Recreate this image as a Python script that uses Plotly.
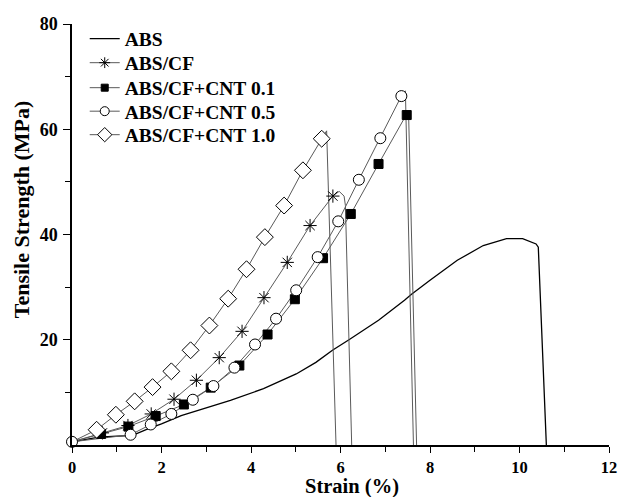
import plotly.graph_objects as go

# ---------------- data ----------------
abs_x = [0.0, 0.3, 0.6, 1.0, 1.34, 1.71, 2.0, 2.44, 3.0, 3.54, 4.28, 5.01, 5.45, 5.82, 6.19,
         6.85, 7.43, 7.58, 8.0, 8.61, 9.19, 9.71, 10.07, 10.37, 10.42, 10.60]
abs_y = [0.6, 1.1, 1.5, 1.7, 1.8, 3.1, 4.0, 5.6, 7.0, 8.5, 10.7, 13.5, 15.7, 18.0, 20.0,
         23.7, 27.5, 28.6, 31.3, 35.1, 37.9, 39.2, 39.2, 38.2, 37.6, 0.0]

cf_x = [0.68, 1.25, 1.77, 2.28, 2.78, 3.29, 3.80, 4.29, 4.81, 5.32, 5.83]
cf_y = [2.3, 3.7, 5.9, 8.7, 12.3, 16.6, 21.6, 28.0, 34.7, 41.7, 47.3]
cf_tail_x = [5.97, 6.08, 6.11, 6.25]
cf_tail_y = [48.2, 47.3, 45.5, 0.0]

c01_x = [0.65, 1.26, 1.87, 2.50, 3.10, 3.74, 4.37, 4.98, 5.61, 6.23, 6.85, 7.48]
c01_y = [2.1, 3.5, 5.5, 7.7, 10.9, 15.1, 21.0, 27.7, 35.5, 43.9, 53.4, 62.7]
c01_tail_x = [7.52, 7.70]
c01_tail_y = [63.5, 0.0]

c05_x = [0.0, 1.31, 1.76, 2.22, 2.70, 3.16, 3.63, 4.09, 4.56, 5.01, 5.49, 5.95, 6.41, 6.89, 7.36]
c05_y = [0.6, 1.95, 3.9, 5.9, 8.6, 11.2, 14.7, 19.1, 24.0, 29.4, 35.7, 42.5, 50.4, 58.3, 66.3]
c05_tail_x = [7.45, 7.63]
c05_tail_y = [67.3, 0.0]

c10_x = [0.55, 0.98, 1.40, 1.80, 2.22, 2.65, 3.07, 3.49, 3.90, 4.31, 4.74, 5.16, 5.58]
c10_y = [2.9, 5.75, 8.3, 11.0, 14.0, 18.0, 22.7, 27.8, 33.4, 39.5, 45.5, 52.2, 58.2]
c10_tail_x = [5.69, 5.90]
c10_tail_y = [59.7, 0.0]

origin_x = [0.0]
origin_y = [0.6]

x_ticks = [0, 2, 4, 6, 8, 10, 12]
y_ticks = [20, 40, 60, 80]

names = ["ABS", "ABS/CF", "ABS/CF+CNT 0.1", "ABS/CF+CNT 0.5", "ABS/CF+CNT 1.0"]

# ---------------- figure ----------------
GRAY = "#5a5a5a"
FONT = "Liberation Serif"
fig = go.Figure()

# ABS line
fig.add_trace(go.Scatter(x=abs_x, y=abs_y, mode="lines",
                         line=dict(color="black", width=1.3), showlegend=False))

series = [
    (cf_x, cf_y, cf_tail_x, cf_tail_y, dict(symbol="asterisk-open", size=11, color="black",
                                            line=dict(color="black", width=1)), True),
    (c01_x, c01_y, c01_tail_x, c01_tail_y, dict(symbol="square", size=9, color="black",
                                                line=dict(color="black", width=1)), True),
    (c05_x, c05_y, c05_tail_x, c05_tail_y, dict(symbol="circle", size=11, color="white",
                                                line=dict(color="black", width=1)), False),
    (c10_x, c10_y, c10_tail_x, c10_tail_y, dict(symbol="diamond", size=13, color="white",
                                                line=dict(color="black", width=1)), True),
]

for mx, my, tx, ty, mk, add_origin in series:
    lx = (origin_x if add_origin else []) + mx + tx
    ly = (origin_y if add_origin else []) + my + ty
    fig.add_trace(go.Scatter(x=lx, y=ly, mode="lines",
                             line=dict(color=GRAY, width=1), showlegend=False))

for mx, my, tx, ty, mk, add_origin in series:
    fig.add_trace(go.Scatter(x=mx, y=my, mode="markers", marker=mk,
                             showlegend=False, cliponaxis=False))

# legend entries: one legend per entry so the row spacing matches the reference
PLOT_TOP, PLOT_BOTTOM = 24, 445
legend_rows_px = [39, 63, 88, 111.5, 135]
legend_ids = ["legend", "legend2", "legend3", "legend4", "legend5"]

fig.add_trace(go.Scatter(x=[None], y=[None], mode="lines", name=names[0],
                         legend=legend_ids[0],
                         line=dict(color="black", width=1.3)))
for (mx, my, tx, ty, mk, _), nm, lid in zip(series, names[1:], legend_ids[1:]):
    mk2 = dict(mk)
    mk2["size"] = mk["size"] - 2
    fig.add_trace(go.Scatter(x=[None], y=[None], mode="lines+markers", name=nm,
                             legend=lid,
                             line=dict(color=GRAY, width=1), marker=mk2))

legend_layout = {}
for lid, row in zip(legend_ids, legend_rows_px):
    legend_layout[lid] = dict(
        x=0.0237, y=(PLOT_BOTTOM - row) / (PLOT_BOTTOM - PLOT_TOP),
        xanchor="left", yanchor="middle",
        bgcolor="rgba(0,0,0,0)", borderwidth=0, itemwidth=30,
        font=dict(family=FONT, size=19.5, color="black", weight="bold"),
    )

axis_common = dict(
    showline=True, linecolor="black", linewidth=1.5, mirror=False,
    tickwidth=1.3, tickcolor="black", ticks="outside",
    showgrid=False, zeroline=False,
)

fig.update_xaxes(range=[0, 12], tickvals=x_ticks, ticktext=[str(v) for v in x_ticks],
                 ticklen=6,
                 minor=dict(ticks="outside", ticklen=5, tickwidth=1.2, tickcolor="black",
                            tickvals=[1, 3, 5, 7, 9, 11]),
                 tickfont=dict(family=FONT, size=16.5, color="black", weight="bold"),
                 ticklabelstandoff=0,
                 **axis_common)
fig.update_yaxes(range=[0, 80], tickvals=y_ticks, ticktext=[str(v) for v in y_ticks],
                 ticklen=7,
                 minor=dict(ticks="outside", ticklen=5, tickwidth=1.2, tickcolor="black",
                            tickvals=[10, 30, 50, 70]),
                 tickfont=dict(family=FONT, size=18, color="black", weight="bold"),
                 ticklabelstandoff=2,
                 **axis_common)

fig.update_layout(
    width=627, height=497,
    margin=dict(l=72, r=10, t=PLOT_TOP, b=497 - PLOT_BOTTOM),
    paper_bgcolor="white", plot_bgcolor="white",
    font=dict(family=FONT, color="black"),
    annotations=[
        dict(text="Strain (%)", xref="paper", yref="paper", x=0.521, y=-0.0985,
             xanchor="center", yanchor="middle", showarrow=False,
             font=dict(family=FONT, size=20.5, color="black", weight="bold")),
        dict(text="Tensile Strength (MPa)", xref="paper", yref="paper", x=-0.095, y=0.56,
             xanchor="center", yanchor="middle", showarrow=False, textangle=-90,
             font=dict(family=FONT, size=22, color="black", weight="bold")),
    ],
    showlegend=True,
    **legend_layout,
)

fig.write_html("out.html")
